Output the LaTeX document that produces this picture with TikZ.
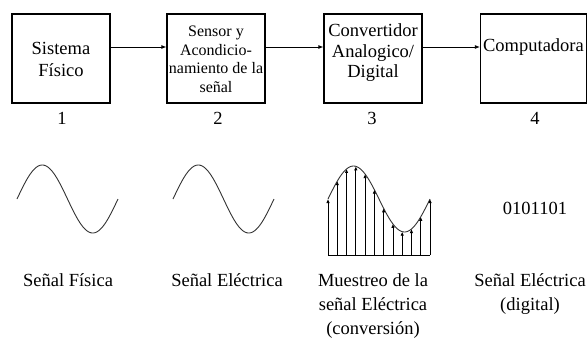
\documentclass[tikz,border=0pt]{standalone}
\usepackage{fontspec}
\setmainfont{Liberation Serif}
\usetikzlibrary{arrows.meta}
\begin{document}
\begin{tikzpicture}[x=1pt,y=-1pt,
  box/.style={draw, line width=1.3pt, minimum width=98pt, minimum height=89pt, inner sep=0pt},
  txt/.style={font=\fontsize{18.5}{22}\selectfont, align=center, inner sep=0pt},
  small/.style={font=\fontsize{16}{18.5}\selectfont, align=center, inner sep=0pt},
  lbl/.style={font=\fontsize{18.5}{24}\selectfont, align=center, inner sep=0pt, anchor=north},
  arr/.style={-{Latex[length=5pt,width=4pt]}, line width=0.8pt},
  wave/.style={line width=0.9pt, draw=black!80},
  samp/.style={-{Latex[length=4pt,width=3.5pt]}, line width=0.8pt}]
\useasboundingbox (0,0) rectangle (588,340);

% boxes
\node[box] (b1) at (61,58.5) {};
\node[box] (b2) at (216,58.5) {};
\node[box] (b3) at (373,58.5) {};
\node[box, minimum width=106pt] (b4) at (533.5,58.5) {};

\node[txt] (t1) at (61,59) {Sistema\\Físico};
\node[small] (t2) at (216,59.5) {Sensor y\\Acondicio-\\namiento de la\\señal};
\node[txt, font=\fontsize{18.5}{20.5}\selectfont] (t3) at (373,53) {Convertidor\\Analogico/\\Digital};
\node[txt] (t4) at (533.5,47) {Computadora};

% arrows
\draw[arr] ([yshift=11.5pt]b1.east) -- ([yshift=11.5pt]b2.west);
\draw[arr] ([yshift=11.5pt]b2.east) -- ([yshift=11.5pt]b3.west);
\draw[arr] ([yshift=11.5pt]b3.east) -- ([yshift=11.5pt]b4.west);

% numbers
\node[txt] (n1) at (62,118) {1};
\node[txt] (n2) at (218,118) {2};
\node[txt] (n3) at (372,118) {3};
\node[txt] (n4) at (535,118) {4};

% waves
\draw[wave] plot[domain=0:360, samples=80, smooth] ({17+\x/360*101}, {199-34*sin(\x)});
\draw[wave] plot[domain=0:360, samples=80, smooth] ({173+\x/360*101}, {199-34*sin(\x)});

% sampled wave
\draw[wave] plot[domain=0:360, samples=80, smooth] ({328+\x/360*102}, {199-33*sin(\x)});
\draw[line width=0.9pt] (328,255) -- (430,255);
\foreach \i in {0,...,11}{
  \pgfmathsetmacro{\xx}{328+\i*102/11}
  \pgfmathsetmacro{\yy}{199-33*sin(\i*360/11)}
  \coordinate (s\i) at (\xx,255);
  \coordinate (e\i) at (\xx,\yy);
  \draw[samp] (s\i) -- (e\i);
}

% digital
\node[txt] (d) at (535,208) {0101101};

% labels
\node[lbl] (l1) at (68,273) {Señal Física};
\node[lbl] (l2) at (227,273) {Señal Eléctrica};
\node[lbl] (l3) at (373,273) {Muestreo de la\\señal Eléctrica\\(conversión)};
\node[lbl] (l4) at (530,273) {Señal Eléctrica\\(digital)};
\end{tikzpicture}
\end{document}
